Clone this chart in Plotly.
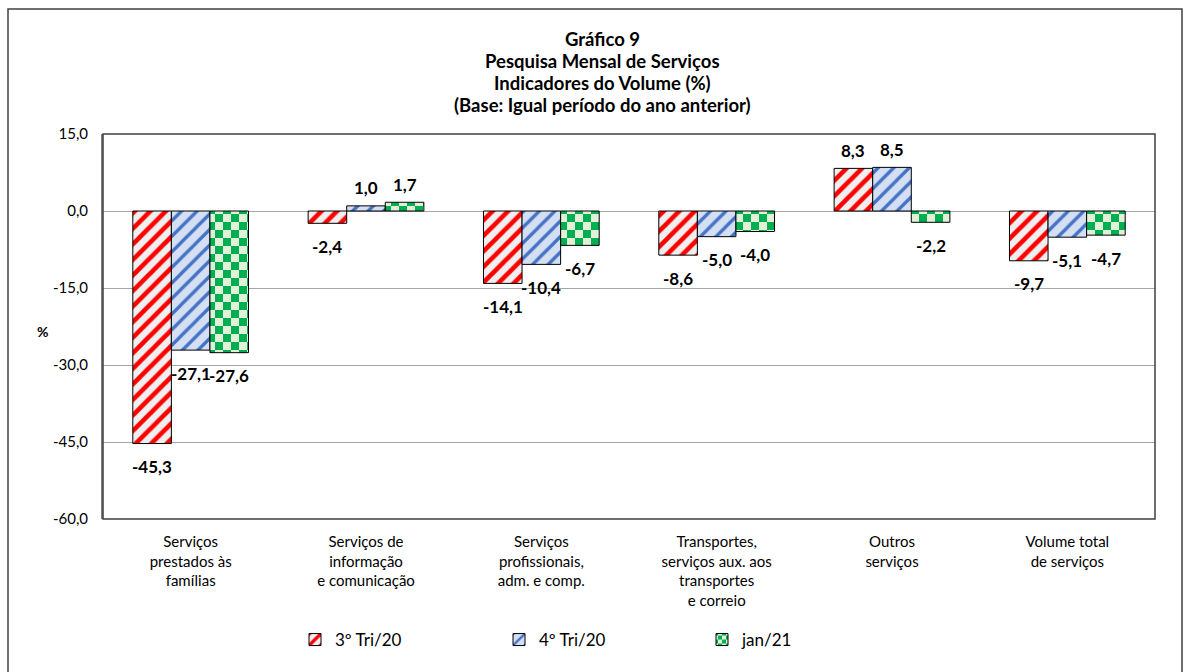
import plotly.graph_objects as go

categories = [
    "Serviços<br>prestados às<br>famílias",
    "Serviços de<br>informação<br>e comunicação",
    "Serviços<br>profissionais,<br>adm. e comp.",
    "Transportes,<br>serviços aux. aos<br>transportes<br>e correio",
    "Outros<br>serviços",
    "Volume total<br>de serviços",
]
series_names = ["3º Tri/20", "4º Tri/20", "jan/21"]
tri3_20 = [-45.3, -2.4, -14.1, -8.6, 8.3, -9.7]
tri4_20 = [-27.1, 1.0, -10.4, -5.0, 8.5, -5.1]
jan21 = [-27.6, 1.7, -6.7, -4.0, -2.2, -4.7]
y_ticks = [-60, -45, -30, -15, 0, 15]
y_ticklabels = ["-60,0", "-45,0", "-30,0", "-15,0", "0,0", "15,0"]
title_lines = [
    "Gráfico 9",
    "Pesquisa Mensal de Serviços",
    "Indicadores do Volume (%)",
    "(Base: Igual período do ano anterior)",
]

FONT = "Lato"
BARGAP = 0.34
W = (1 - BARGAP) / 3
PLOT_TOP, PLOT_BOTTOM, PLOT_LEFT, PLOT_RIGHT = 134, 519, 103, 1155
PH = PLOT_BOTTOM - PLOT_TOP
PW = PLOT_RIGHT - PLOT_LEFT


def py(px):
    return (PLOT_BOTTOM - px) / PH


def pxx(px):
    return (px - PLOT_LEFT) / PW


styles = [
    dict(shape="/", fg="#FF0000", bg="#EFEFEF", size=11, solidity=0.42),
    dict(shape="/", fg="#4472C4", bg="#D5DFF3", size=11, solidity=0.3),
    dict(shape=".", fg="#00B050", bg="#E2F0D9", size=16, solidity=0.5),
]
legend_ids = ["legend", "legend2", "legend3"]
legend_left_px = [295, 499, 702]

xs = list(range(len(categories)))
fig = go.Figure()
annotations = []
for k, (name, vals, st) in enumerate(zip(series_names, [tri3_20, tri4_20, jan21], styles)):
    fig.add_trace(go.Bar(
        x=xs, y=vals, name=name, legend=legend_ids[k],
        marker=dict(
            color=st["bg"],
            line=dict(color="#000000", width=1),
            pattern=dict(shape=st["shape"], fgcolor=st["fg"], bgcolor=st["bg"],
                         size=st["size"], solidity=st["solidity"], fillmode="replace"),
        ),
        hoverinfo="skip",
    ))
    off = (k - 1) * W
    for i, v in enumerate(vals):
        annotations.append(dict(
            x=i + off, y=v, xref="x", yref="y",
            text="<b>" + ("%.1f" % v).replace(".", ",") + "</b>",
            showarrow=False,
            yshift=(18 if v > 0 else -23),
            font=dict(family=FONT, size=17, color="#000000"),
        ))

for j, line in enumerate(title_lines):
    annotations.append(dict(
        x=pxx(602), y=py(39 + 22 * j), xref="paper", yref="paper",
        text="<b>" + line + "</b>", showarrow=False, xanchor="center", yanchor="middle",
        font=dict(family=FONT, size=18.5, color="#000000"),
    ))

annotations.append(dict(
    x=pxx(35), y=py(331), xref="paper", yref="paper", text="<b>%</b>",
    showarrow=False, font=dict(family=FONT, size=14, color="#000000"),
))

legend_common = dict(
    orientation="h", xanchor="left", y=py(640), yanchor="middle",
    font=dict(family=FONT, size=17, color="#000000"), bgcolor="rgba(0,0,0,0)",
)

fig.update_layout(
    width=1186, height=672,
    margin=dict(l=PLOT_LEFT, r=1186 - PLOT_RIGHT, t=PLOT_TOP, b=672 - PLOT_BOTTOM),
    paper_bgcolor="#FFFFFF", plot_bgcolor="#FFFFFF",
    barmode="group", bargap=BARGAP, bargroupgap=0,
    font=dict(family=FONT, color="#000000"),
    xaxis=dict(
        range=[-0.5, 5.5], tickvals=xs, ticktext=categories,
        showgrid=False, zeroline=False, showline=False, ticks="",
        tickfont=dict(family=FONT, size=15, color="#000000"),
        ticklabelstandoff=12,
        fixedrange=True,
    ),
    yaxis=dict(
        range=[-60, 15], tickvals=y_ticks, ticktext=y_ticklabels,
        showgrid=True, gridcolor="#A6A6A6", gridwidth=1,
        zeroline=True, zerolinecolor="#A6A6A6", zerolinewidth=1,
        showline=True, linecolor="#808080", linewidth=2, ticks="",
        tickfont=dict(family=FONT, size=15, color="#000000"),
        ticklabelstandoff=10,
    ),
    showlegend=True,
    legend=dict(legend_common, x=pxx(legend_left_px[0])),
    legend2=dict(legend_common, x=pxx(legend_left_px[1])),
    legend3=dict(legend_common, x=pxx(legend_left_px[2])),
    annotations=annotations,
    shapes=[
        dict(type="rect", xref="paper", yref="paper", x0=0, x1=1, y0=0, y1=1,
             line=dict(color="#404040", width=1.5), fillcolor="rgba(0,0,0,0)", layer="above"),
        dict(type="rect", xref="paper", yref="paper",
             x0=pxx(8), x1=pxx(1182), y0=py(690), y1=py(9),
             line=dict(color="#404040", width=1.5), fillcolor="rgba(0,0,0,0)", layer="above"),
    ],
)

post = """
document.body.style.margin = '0';
document.body.style.overflow = 'hidden';
function checker(){
  var pats = document.querySelectorAll('pattern');
  pats.forEach(function(p){
    var html = p.innerHTML;
    if (html.indexOf('0, 176, 80') >= 0 || html.toLowerCase().indexOf('00b050') >= 0) {
      var w = parseFloat(p.getAttribute('width'));
      var h = w/2;
      var ns = 'http://www.w3.org/2000/svg';
      while (p.firstChild) p.removeChild(p.firstChild);
      var r0 = document.createElementNS(ns,'rect');
      r0.setAttribute('x',0);r0.setAttribute('y',0);r0.setAttribute('width',w);r0.setAttribute('height',w);
      r0.setAttribute('fill','#E2F0D9');p.appendChild(r0);
      [[0,0],[h,h]].forEach(function(c){
        var r = document.createElementNS(ns,'rect');
        r.setAttribute('x',c[0]);r.setAttribute('y',c[1]);r.setAttribute('width',h);r.setAttribute('height',h);
        r.setAttribute('fill','#00B050');p.appendChild(r);
      });
    }
  });
}
checker();
var gdd = document.getElementById('{plot_id}');
if (gdd && gdd.on) { gdd.on('plotly_afterplot', function(){ setTimeout(checker, 0); }); }
"""

fig.write_html("out.html", post_script=post, config={"displayModeBar": False})
